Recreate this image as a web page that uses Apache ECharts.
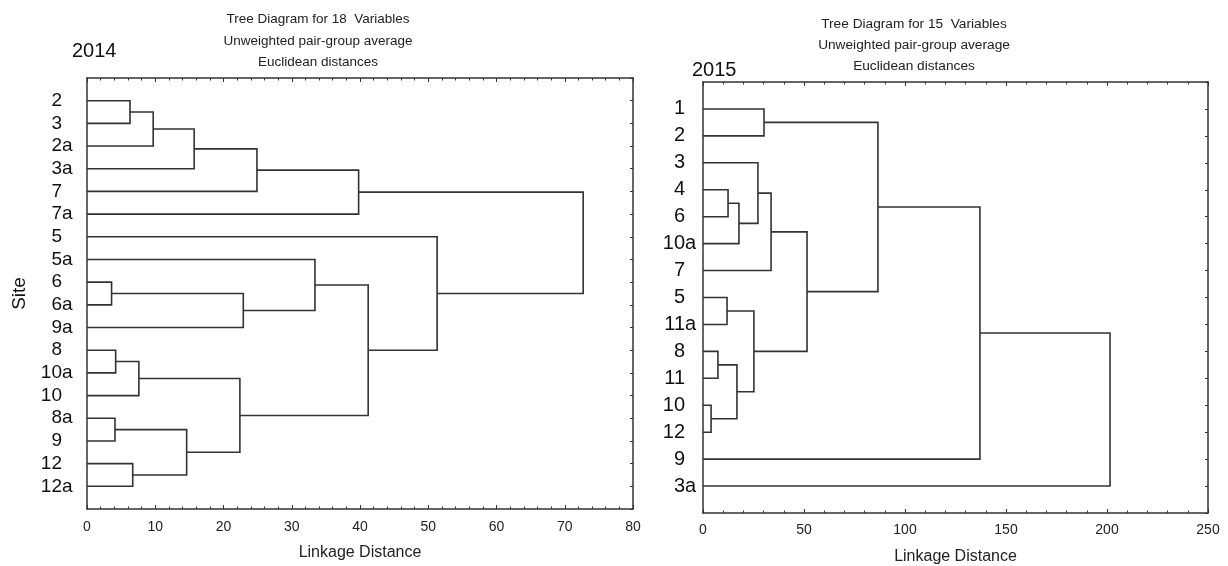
<!DOCTYPE html>
<html>
<head>
<meta charset="utf-8">
<script src="https://cdn.jsdelivr.net/npm/echarts@6/dist/echarts.min.js"></script>
<style>html,body{margin:0;padding:0;background:#fff;}#c{width:1228px;height:566px;}</style>
</head>
<body>
<div id="c"></div>
<script>
// ---- Data ----
const leaves2014 = ['2','3','2a','3a','7','7a','5','5a','6','6a','9a','8','10a','10','8a','9','12','12a'];
// merges: [childA, childB, linkage distance]; leaves are 0..n-1, new clusters n, n+1, ...
const merges2014 = [
  [0, 1, 6.3], [18, 2, 9.7], [19, 3, 15.7], [20, 4, 24.9], [21, 5, 39.8],
  [8, 9, 3.6], [23, 10, 22.9], [7, 24, 33.4],
  [11, 12, 4.2], [26, 13, 7.6], [14, 15, 4.1], [16, 17, 6.7], [28, 29, 14.6], [27, 30, 22.4],
  [25, 31, 41.2], [6, 32, 51.3], [22, 33, 72.7]
];
const leaves2015 = ['1','2','3','4','6','10a','7','5','11a','8','11','10','12','9','3a'];
const merges2015 = [
  [0, 1, 30.2], [3, 4, 12.4], [16, 5, 17.8], [2, 17, 27.2], [18, 6, 33.7],
  [7, 8, 11.9], [9, 10, 7.4], [11, 12, 4.0], [21, 22, 16.8], [20, 23, 25.2],
  [19, 24, 51.5], [15, 25, 86.6], [26, 13, 137.1], [27, 14, 201.5]
];
const xTicks2014 = {min: 0, max: 80, interval: 10};
const xTicks2015 = {min: 0, max: 250, interval: 50};

// ---- Build segments ----
function buildSegments(leaves, merges) {
  const nodes = leaves.map((_, i) => ({y: i + 1, h: 0}));
  const segs = [];
  merges.forEach(m => {
    const a = nodes[m[0]], b = nodes[m[1]];
    segs.push([m[2], a.y, b.y, a.h, b.h]);
    nodes.push({y: (a.y + b.y) / 2, h: m[2]});
  });
  return segs;
}
const seg2014 = buildSegments(leaves2014, merges2014);
const seg2015 = buildSegments(leaves2015, merges2015);

const FONT = 'Liberation Sans, Arial, sans-serif';
const LINE = '#333';

function renderItem(params, api) {
  const h = api.value(0), yA = api.value(1), yB = api.value(2), hA = api.value(3), hB = api.value(4);
  return {
    type: 'polyline',
    shape: {points: [api.coord([hA, yA]), api.coord([h, yA]), api.coord([h, yB]), api.coord([hB, yB])]},
    style: {stroke: LINE, lineWidth: 1.6, fill: null}
  };
}

function leafPart(leaves, part) {
  return v => {
    const i = Math.round(v) - 1;
    if (i < 0 || i >= leaves.length || Math.abs(v - i - 1) > 1e-6) return '';
    const m = leaves[i].match(/^(\d+)(.*)$/);
    return part === 0 ? m[1] : m[2];
  };
}

function xAxes(grid, t, margin) {
  const common = {
    type: 'value', gridIndex: grid, min: t.min, max: t.max, interval: t.interval,
    axisLine: {show: true, onZero: false, lineStyle: {color: LINE, width: 1.5}},
    axisTick: {show: true, inside: true, length: 4, lineStyle: {color: LINE, width: 1}},
    minorTick: {show: true, splitNumber: 5, length: 2.5, lineStyle: {color: LINE, width: 1}},
    splitLine: {show: false}, minorSplitLine: {show: false}
  };
  return [
    Object.assign({}, common, {
      position: 'bottom',
      name: 'Linkage Distance', nameLocation: 'middle', nameGap: 36,
      nameTextStyle: {fontFamily: FONT, fontSize: 16, color: '#222'},
      axisLabel: {fontFamily: FONT, fontSize: 14, color: '#222', margin: margin}
    }),
    Object.assign({}, common, {position: 'top', axisLabel: {show: false}})
  ];
}

function yAxes(grid, leaves, fontSize, margin, withName) {
  const n = leaves.length;
  const common = {
    type: 'value', gridIndex: grid, min: 0, max: n + 1, interval: 1, inverse: true,
    splitLine: {show: false}
  };
  const left = Object.assign({}, common, {
    position: 'left',
    axisLine: {show: true, onZero: false, lineStyle: {color: LINE, width: 1.5}},
    axisTick: {show: false},
    axisLabel: {margin: margin, formatter: leafPart(leaves, 0), align: 'right',
      fontFamily: FONT, fontSize: fontSize, color: '#111'}
  });
  if (withName) {
    Object.assign(left, {
      name: 'Site', nameLocation: 'middle', nameGap: 58, nameRotate: 90,
      nameTextStyle: {fontFamily: FONT, fontSize: 19, color: '#111'}
    });
  }
  const suffix = Object.assign({}, common, {
    position: 'left',
    axisLine: {show: false, onZero: false},
    axisTick: {show: false},
    axisLabel: {margin: margin, formatter: leafPart(leaves, 1), align: 'left',
      fontFamily: FONT, fontSize: fontSize, color: '#111'}
  });
  const right = Object.assign({}, common, {
    position: 'right',
    axisLine: {show: true, onZero: false, lineStyle: {color: LINE, width: 1.5}},
    axisTick: {show: true, inside: true, length: 3, lineStyle: {color: LINE, width: 1}},
    axisLabel: {show: false}
  });
  return [left, suffix, right];
}

const chart = echarts.init(document.getElementById('c'));
chart.setOption({
  backgroundColor: '#fff',
  animation: false,
  title: [
    {text: 'Tree Diagram for 18  Variables\nUnweighted pair-group average\nEuclidean distances',
     left: 318, top: 9, padding: 0, textAlign: 'center',
     textStyle: {fontFamily: FONT, fontSize: 13.5, fontWeight: 'normal', color: '#222', lineHeight: 21.5}},
    {text: '2014', left: 72, top: 41, padding: 0,
     textStyle: {fontFamily: FONT, fontSize: 20, fontWeight: 'normal', color: '#111'}},
    {text: 'Tree Diagram for 15  Variables\nUnweighted pair-group average\nEuclidean distances',
     left: 914, top: 14, padding: 0, textAlign: 'center',
     textStyle: {fontFamily: FONT, fontSize: 13.7, fontWeight: 'normal', color: '#222', lineHeight: 21}},
    {text: '2015', left: 692, top: 60, padding: 0,
     textStyle: {fontFamily: FONT, fontSize: 20, fontWeight: 'normal', color: '#111'}}
  ],
  grid: [
    {left: 87, top: 78, width: 546, height: 431, outerBoundsMode: 'none', containLabel: false},
    {left: 703, top: 82, width: 505, height: 431, outerBoundsMode: 'none', containLabel: false}
  ],
  xAxis: [].concat(xAxes(0, xTicks2014, 11), xAxes(1, xTicks2015, 10)),
  yAxis: [].concat(yAxes(0, leaves2014, 19, 25, true), yAxes(1, leaves2015, 20, 18, false)),
  series: [
    {type: 'custom', xAxisIndex: 0, yAxisIndex: 0, renderItem: renderItem, data: seg2014,
     encode: {x: [0, 3, 4], y: [1, 2]}, silent: true},
    {type: 'custom', xAxisIndex: 2, yAxisIndex: 3, renderItem: renderItem, data: seg2015,
     encode: {x: [0, 3, 4], y: [1, 2]}, silent: true}
  ]
});
</script>
</body>
</html>
